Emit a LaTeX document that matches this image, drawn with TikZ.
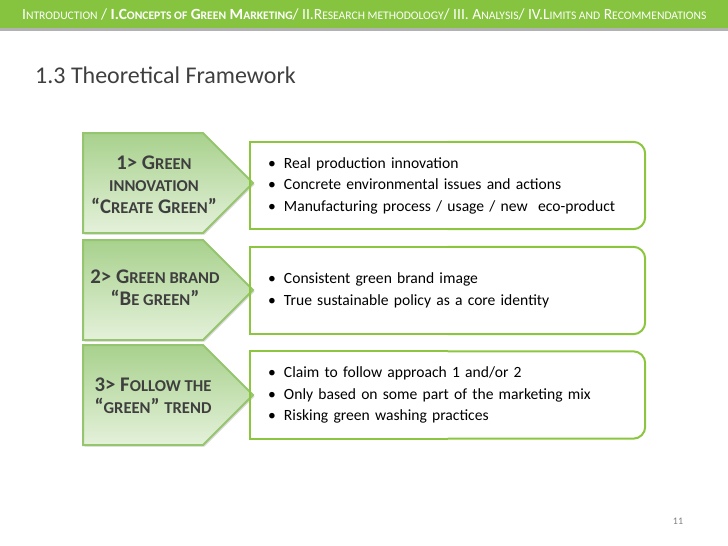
\documentclass[tikz,border=0pt]{standalone}
\usepackage{fontspec}
\setmainfont{Carlito}
\usetikzlibrary{shapes.symbols,shadows,positioning}
\definecolor{barGreen}{HTML}{86C440}
\definecolor{lineGreen}{HTML}{8CC63F}
\definecolor{chevTop}{HTML}{A8D18D}
\definecolor{chevBot}{HTML}{E4F1DA}
\definecolor{chevLine}{HTML}{95C56E}
\definecolor{darkText}{HTML}{3F3F3F}
\newcommand\hsm[1]{{\fontsize{11.6}{13}\selectfont\MakeUppercase{#1}}}
\newcommand\lsm[1]{{\fontsize{16.6}{18}\selectfont\MakeUppercase{#1}}}
\newcommand\bul{\makebox[16pt][l]{•}}
\tikzset{
  chevron/.style={signal, signal to=east, signal pointer angle=90, minimum width=170pt, minimum height=100pt, inner sep=0pt,
    anchor=west, top color=chevTop, bottom color=chevBot, draw=chevLine, line width=2pt,
    drop shadow={opacity=0.3, shadow xshift=1.5pt, shadow yshift=-1.5pt}},
  chevtext/.style={align=center, inner sep=0pt, font=\fontsize{20.8}{22}\selectfont\bfseries, text=darkText},
  itembox/.style={minimum width=395pt, minimum height=87pt, text width=359pt, inner xsep=18pt, align=left,
    font=\fontsize{15.6}{21.5}\selectfont, text=black},
  boxline/.style={draw=lineGreen, line width=2pt},
}
\begin{document}
\begin{tikzpicture}[x=1pt,y=-1pt]
  \useasboundingbox (0,0) rectangle (728,546);
  % header bar
  \fill[barGreen] (0,0) rectangle (728,28);
  \fill[black!30] (0,28) rectangle (728,31);
  \node[anchor=west, inner sep=0pt, text=white, font=\fontsize{15.5}{17}\selectfont] (hdr) at (22,14.5)
    {I\hsm{ntroduction} / \textbf{I.C\hsm{oncepts of} G\hsm{reen} M\hsm{arketing}}/ II.R\hsm{esearch methodology}/ III. A\hsm{nalysis}/ IV.L\hsm{imits and} R\hsm{ecommendations}};
  \node[anchor=west, inner sep=0pt, font=\fontsize{24}{28}\selectfont, text=darkText] (title) at (35,75) {1.3 Theoretical Framework};

  % left chevrons
  \node[chevron] (c1) at (82,183) {};
  \node[chevron] (c2) at (82,290) {};
  \node[chevron] (c3) at (82,395) {};
  \node[chevtext] (t1) at (154,185) {1> G\lsm{reen}\\ \lsm{innovation}\\ “C\lsm{reate} G\lsm{reen}”};
  \node[chevtext] (t2) at (155,288) {2> G\lsm{reen brand}\\ “B\lsm{e green}”};
  \node[chevtext] (t3) at (153,396) {3> F\lsm{ollow the}\\ “\lsm{green}” \lsm{trend}};

  % right boxes
  \node[itembox] (b1) at (447.5,185.5)
    {\bul Real production innovation\\ \bul Concrete environmental issues and actions\\ \bul Manufacturing process / usage / new\ \ eco-product};
  \node[itembox] (b2) at (447.5,290.5)
    {\bul Consistent green brand image\\ \bul True sustainable policy as a core identity};
  \node[itembox] (b3) at (447.5,395)
    {\bul Claim to follow approach 1 and/or 2\\ \bul Only based on some part of the marketing mix\\ \bul Risking green washing practices};
  \foreach \b in {b1,b2,b3} {
    \draw[boxline, rounded corners=12pt] (\b.north) -- (\b.north east) -- (\b.south east) -- (\b.south);
    \draw[boxline] (\b.north) -- (\b.north west) -- (\b.south west) -- (\b.south);
  }

  \node[text=black!50, font=\fontsize{10}{12}\selectfont] (pnum) at (678,521) {11};
\end{tikzpicture}
\end{document}
